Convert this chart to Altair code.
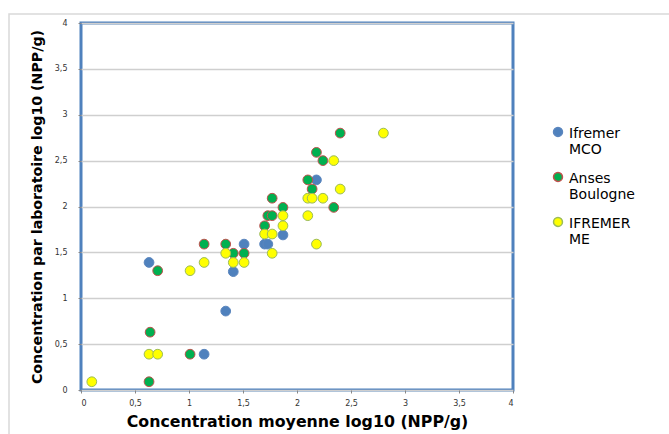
import altair as alt
import pandas as pd

series_names = ["Ifremer MCO", "Anses Boulogne", "IFREMER ME"]

mco_x = [0.63, 1.34, 1.14, 1.41, 1.51, 1.70, 1.73, 1.87, 2.18]
mco_y = [1.39, 0.86, 0.39, 1.29, 1.59, 1.59, 1.59, 1.69, 2.29]

anses_x = [0.63, 0.64, 0.71, 1.01, 1.14, 1.34, 1.41, 1.51, 1.70, 1.73, 1.77, 1.77,
           1.87, 2.10, 2.14, 2.18, 2.24, 2.34, 2.40]
anses_y = [0.09, 0.63, 1.30, 0.39, 1.59, 1.59, 1.49, 1.49, 1.79, 1.90, 1.90, 2.09,
           1.99, 2.29, 2.19, 2.59, 2.50, 1.99, 2.80]

me_x = [0.10, 0.63, 0.71, 1.01, 1.14, 1.34, 1.41, 1.51, 1.70, 1.77, 1.77, 1.87,
        1.87, 2.10, 2.10, 2.14, 2.24, 2.18, 2.34, 2.40, 2.80]
me_y = [0.09, 0.39, 0.39, 1.30, 1.39, 1.49, 1.39, 1.39, 1.70, 1.70, 1.49, 1.79,
        1.90, 1.90, 2.09, 2.09, 2.09, 1.59, 2.50, 2.19, 2.80]

fill_colors = ["#4F81BD", "#00B050", "#FFFF00"]
stroke_colors = ["#5B86BE", "#C0504D", "#9BBB59"]

rows = []
for name, xs, ys in zip(series_names, [mco_x, anses_x, me_x], [mco_y, anses_y, me_y]):
    for xv, yv in zip(xs, ys):
        rows.append({"series": name, "x": xv, "y": yv})
df = pd.DataFrame(rows)
df["order"] = df["series"].map({n: i for i, n in enumerate(series_names)})

tick_vals = [0, 0.5, 1, 1.5, 2, 2.5, 3, 3.5, 4]
label_expr = "replace(format(datum.value, '.1~f'), '.', ',')"

# circle path shifted down so the symbol lines up with the first label line
shifted_circle = "M 1,1.1 A 1,1 0 1,1 -1,1.1 A 1,1 0 1,1 1,1.1 Z"

frame = alt.Chart(pd.DataFrame({"a": [0]})).mark_rect(
    fillOpacity=0, stroke="#d9d9d9", strokeWidth=1.5
).encode(
    x=alt.value(-72), x2=alt.value(600), y=alt.value(-9), y2=alt.value(420)
)

points = alt.Chart(df).mark_circle(size=95, opacity=1, strokeWidth=1).encode(
    x=alt.X("x:Q", scale=alt.Scale(domain=[0, 4], nice=False),
            axis=alt.Axis(values=tick_vals, labelExpr=label_expr, grid=False,
                          title="Concentration moyenne log10 (NPP/g)",
                          titleFontSize=15.8, titleFontWeight="bold", titleFont="DejaVu Sans",
                          titlePadding=7, labelFontSize=8, labelFont="DejaVu Sans",
                          labelColor="#333333", tickSize=3, tickColor="#888888",
                          domain=False, labelPadding=6)),
    y=alt.Y("y:Q", scale=alt.Scale(domain=[0, 4], nice=False),
            axis=alt.Axis(values=tick_vals, labelExpr=label_expr, grid=True,
                          gridColor="#cfcfcf", gridWidth=1.5,
                          title="Concentration par laboratoire log10 (NPP/g)",
                          titleFontSize=14.2, titleFontWeight="bold", titleFont="DejaVu Sans",
                          titlePadding=10, labelFontSize=8, labelFont="DejaVu Sans",
                          labelColor="#333333", tickSize=3, tickColor="#888888",
                          domain=False, labelPadding=11)),
    fill=alt.Fill("series:N", scale=alt.Scale(domain=series_names, range=fill_colors),
                  legend=alt.Legend(title=None, orient="none", legendX=470, legendY=97,
                                    labelExpr="split(datum.label, ' ')",
                                    labelFontSize=14, labelFont="DejaVu Sans",
                                    labelColor="#000000", symbolSize=80,
                                    symbolType=shifted_circle,
                                    rowPadding=8, labelOffset=4, labelBaseline="top")),
    stroke=alt.Stroke("series:N", scale=alt.Scale(domain=series_names, range=stroke_colors)),
    order=alt.Order("order:Q"),
)

chart = alt.layer(frame, points).properties(
    width=432, height=367,
    autosize=alt.AutoSizeParams(type="none"),
    padding={"left": 81, "top": 23, "right": 156, "bottom": 44},
).configure(background="white").configure_view(stroke="#4F81BD", strokeWidth=3)

chart.save("out.html", embed_options={"renderer": "svg", "actions": False})
